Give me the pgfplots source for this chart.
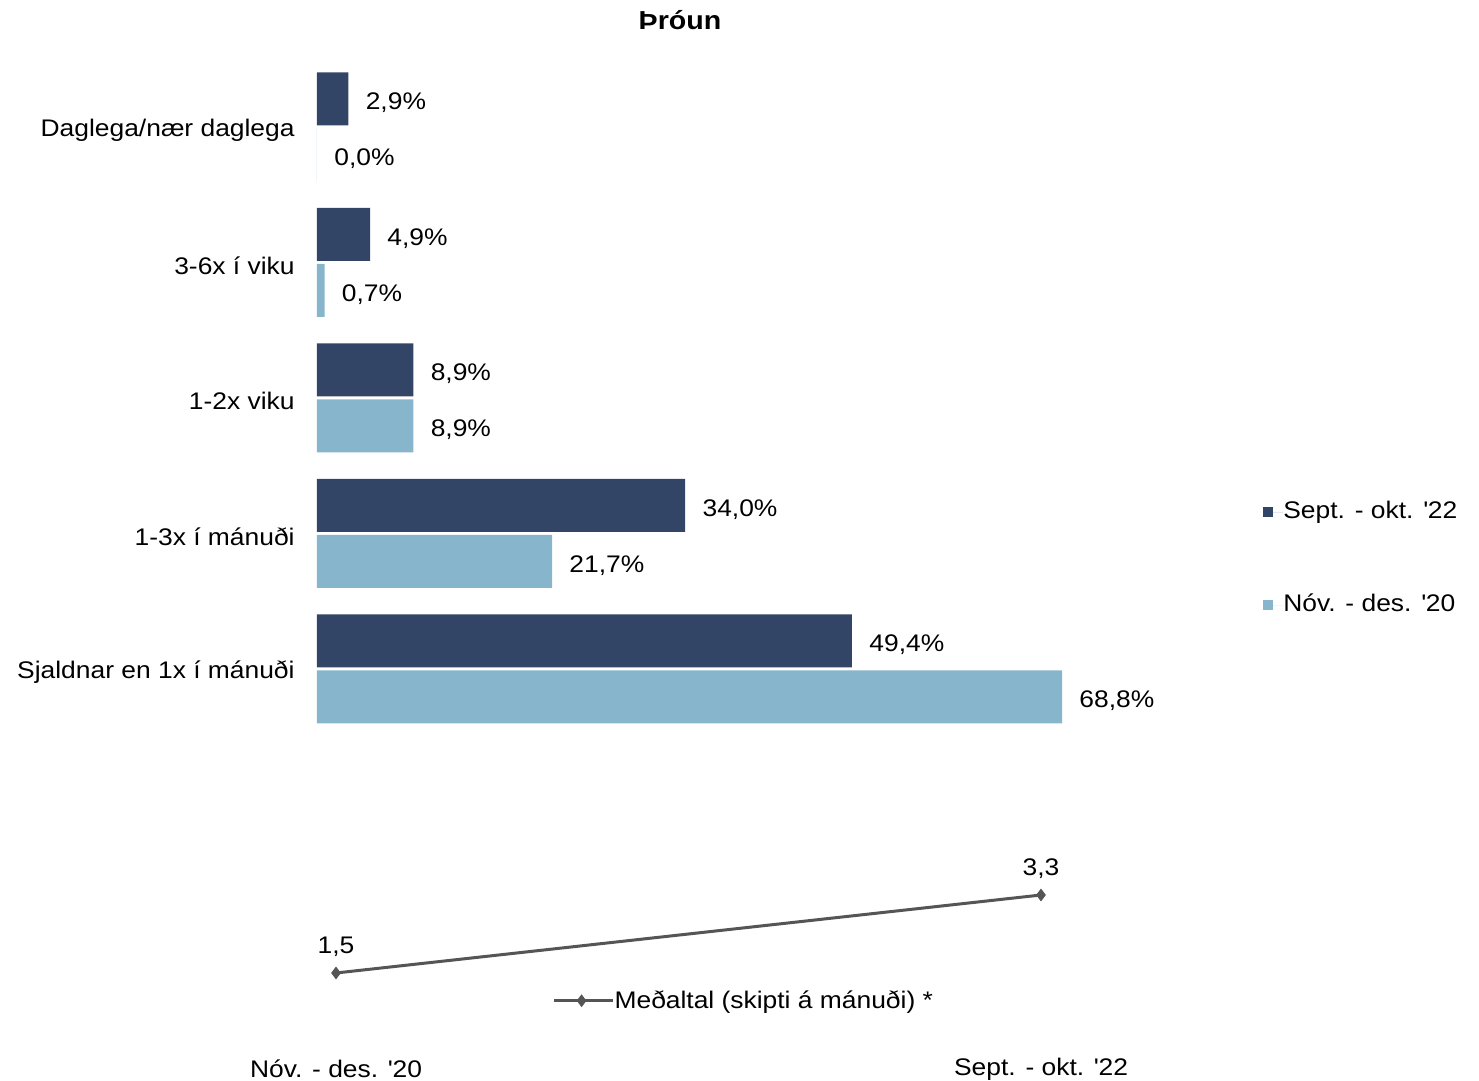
\documentclass[border=0pt]{standalone}
\usepackage{pgfplots}
\pgfplotsset{compat=1.18}
\usepackage{fontspec}
\setmainfont{Liberation Sans}[FakeStretch=1.1]
\definecolor{darkbar}{RGB}{50,69,102}
\definecolor{lightbar}{RGB}{135,182,204}
\definecolor{linegrey}{RGB}{85,85,85}
\begin{document}
\begin{tikzpicture}[font=\fontsize{12}{14}\selectfont]
\useasboundingbox (0,0) rectangle (739.5pt,540.5pt);
\node[font=\fontsize{13}{15}\selectfont\bfseries] at (340pt,530.5pt) {Þróun};
% bar chart
\begin{axis}[
  at={(158.5pt,172.125pt)}, anchor=south west,
  scale only axis, width=433.2pt, height=338.75pt,
  xbar, xmin=0, xmax=80, ymin=-0.5, ymax=4.5,
  axis line style={draw=none}, major tick length=0,
  xtick=\empty,
  ytick={0,1,2,3,4},
  yticklabels={Sjaldnar en 1x í mánuði,1-3x í mánuði,1-2x viku,3-6x í viku,Daglega/nær daglega},
  yticklabel style={anchor=east, inner sep=0pt, xshift=-11pt, yshift=-1.5pt},
  bar width=26.5pt,
  clip=false,
  nodes near coords={\pgfmathprintnumber{\pgfplotspointmeta}\%},
  every node near coord/.append style={anchor=west, inner sep=0pt, xshift=8.5pt, yshift=-2pt, text=black},
  /pgf/number format/.cd, use comma, fixed, fixed zerofill, precision=1, assume math mode=true, /pgfplots/.cd,
  legend style={at={(axis cs:87.35,0.815)}, anchor=west, draw=none, fill=none, inner sep=0pt,
    nodes={inner sep=0pt, text height=8.5pt, text depth=2.5pt}, row sep=35.5pt},
  legend cell align=left,
  legend image code/.code={\fill[#1,draw=none] (0pt,-2.5pt) rectangle (5pt,2.5pt); \path (0pt,0pt) -- (10pt,0pt);},
]
\addplot[fill=darkbar, draw=none, bar shift=14pt] coordinates {(49.4,0) (34.0,1) (8.9,2) (4.9,3) (2.9,4)};
\addlegendentry{Sept. - okt. \textquotesingle 22}
\addplot[fill=lightbar, draw=none, bar shift=-14pt] coordinates {(68.8,0) (21.7,1) (8.9,2) (0.7,3) (0.0,4)};
\addlegendentry{Nóv. - des. \textquotesingle 20}
\end{axis}
% line chart
\begin{axis}[
  at={(168pt,54pt)}, anchor=south west,
  scale only axis, width=352.5pt, height=39pt,
  xmin=0, xmax=1, ymin=1.5, ymax=3.3,
  axis line style={draw=none}, major tick length=0,
  ytick=\empty, xtick={0,1},
  xticklabels={Nóv. - des. \textquotesingle 20,Sept. - okt. \textquotesingle 22},
  xticklabel style={anchor=center, inner sep=0pt, yshift=-48pt},
  clip=false,
  nodes near coords={\pgfmathprintnumber{\pgfplotspointmeta}},
  every node near coord/.append style={anchor=center, inner sep=0pt, yshift=13pt, text=black},
  /pgf/number format/.cd, use comma, fixed, fixed zerofill, precision=1, assume math mode=true, /pgfplots/.cd,
  legend style={at={(axis cs:0.577,0.86)}, anchor=center, draw=none, fill=none, inner sep=0pt,
    nodes={inner sep=0pt}},
  legend image code/.code={\draw[mark repeat=2,mark phase=2,#1] plot coordinates {(0pt,0pt) (13.75pt,0pt) (27.5pt,0pt)}; \path (0pt,0pt) -- (29.5pt,0pt);},
]
\addplot[color=linegrey, line width=1.5pt, mark=diamond*, mark size=2.8pt, mark options={solid, line width=0.5pt}] coordinates {(0,1.5) (1,3.3)};
\addlegendentry{Meðaltal (skipti á mánuði) *}
\end{axis}
\end{tikzpicture}
\end{document}
